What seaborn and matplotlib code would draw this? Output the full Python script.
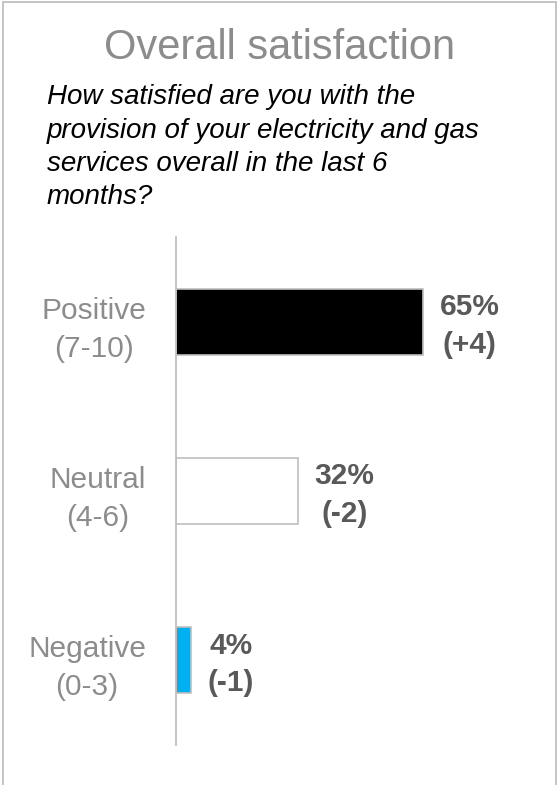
import numpy as np
import pandas as pd
from matplotlib import pyplot as plt
from matplotlib.patches import Rectangle
import seaborn as sns

categories = ['Positive\n(7-10)', 'Neutral\n(4-6)', 'Negative\n(0-3)']
shares = [65, 32, 4]
changes = ['+4', '-2', '-1']
bar_colors = ['#000000', '#FFFFFF', '#00B0F0']

df = pd.DataFrame({'category': categories, 'share': shares})

sns.set_theme(style='white')
plt.rcParams['font.family'] = ['Liberation Sans', 'DejaVu Sans']

fig = plt.figure(figsize=(5.6, 7.85), dpi=100)
ax = fig.add_axes([176 / 560, 1 - 745 / 785, 380 / 560, 508 / 785])

sns.barplot(data=df, x='share', y='category', hue='category', palette=bar_colors,
            saturation=1, legend=False, width=0.39, edgecolor='#BFBFBF', linewidth=1.2, ax=ax)

ax.set_xlim(0, 100)
ax.set_ylim(2.5, -0.5)
ax.set_xlabel('')
ax.set_ylabel('')
ax.set_xticks([])
for side in ['top', 'right', 'bottom']:
    ax.spines[side].set_visible(False)
ax.spines['left'].set_color('#BFBFBF')
ax.spines['left'].set_linewidth(1.3)
ax.tick_params(axis='y', length=0, pad=21.5, labelsize=21.5, labelcolor='#8C8C8C')
for lbl in ax.get_yticklabels():
    lbl.set_multialignment('center')
    lbl.set_linespacing(1.45)

for i, (v, c) in enumerate(zip(shares, changes)):
    ax.annotate(f'{v}%\n({c})', xy=(v, i), xytext=(12, -3), textcoords='offset points',
                ha='left', va='center', multialignment='center', fontsize=21.5,
                fontweight='bold', color='#595959', linespacing=1.45)

fig.text(280 / 560, 1 - 48 / 785, 'Overall satisfaction', ha='center', va='center',
         fontsize=30, color='#8C8C8C')
# baseline of the last line ("months?")
fig.text(47 / 560, 1 - 204 / 785,
         'How satisfied are you with the\nprovision of your electricity and gas\n'
         'services overall in the last 6\nmonths?',
         ha='left', va='baseline', fontsize=20, style='italic', color='#000000',
         linespacing=1.36)

border = Rectangle((3 / 560, -0.01), 553 / 560, 1 - 2 / 785 + 0.01, transform=fig.transFigure,
                   fill=False, edgecolor='#BFBFBF', linewidth=1.3)
fig.patches.append(border)

fig.savefig('out.png', dpi=100)
